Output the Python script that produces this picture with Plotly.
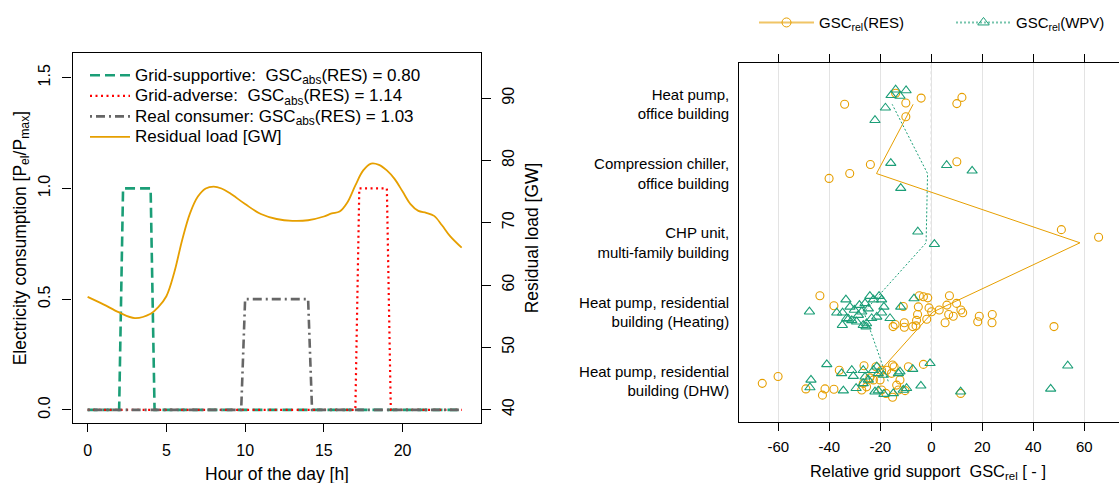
import plotly.graph_objects as go

# ---------------- Left panel data ----------------
hours_res = [0, 1, 2, 3, 4, 4.5, 5, 5.5, 6, 6.5, 7, 7.5, 8, 8.5, 9, 10, 11, 12, 13, 14, 15, 15.5,
             16, 16.5, 17, 17.5, 18, 18.5, 19, 19.5, 20, 20.5, 21, 21.5, 22, 22.5, 23, 23.75]
residual_load = [58.1, 56.9, 55.6, 54.7, 55.4, 56.5, 58.2, 62.0, 67.2, 71.5, 74.2, 75.5, 75.8, 75.5,
                 74.8, 73.0, 71.4, 70.6, 70.3, 70.4, 71.0, 71.5, 71.8, 73.3, 76.0, 78.4, 79.5, 79.3,
                 78.4, 77.0, 75.0, 73.0, 71.9, 71.6, 71.1, 69.6, 67.9, 66.0]

sup_hours = [0, 2.0, 2.25, 4.0, 4.25, 23.75]
sup_vals = [0, 0, 1, 1, 0, 0]
adv_hours = [0, 17.0, 17.25, 19.0, 19.25, 23.75]
adv_vals = [0, 0, 1, 1, 0, 0]
real_hours = [0, 9.75, 10.0, 14.0, 14.25, 23.75]
real_vals = [0, 0, 0.5, 0.5, 0, 0]

left_x_ticks = [0, 5, 10, 15, 20]
left_y_ticks = [0, 0.5, 1.0, 1.5]
left_y_ticktext = ["0.0", "0.5", "1.0", "1.5"]
right_y_ticks = [40, 50, 60, 70, 80, 90]

# ---------------- Right panel data ----------------
categories = ["Heat pump, residential<br>building (DHW)",
              "Heat pump, residential<br>building (Heating)",
              "CHP unit,<br>multi-family building",
              "Compression chiller,<br>office building",
              "Heat pump,<br>office building"]
cat_index = [1, 2, 3, 4, 5]
gsc_ticks = [-60, -40, -20, 0, 20, 40, 60]

# GSC_rel(RES): value, category, vertical jitter
res_x = [-34.0, -14.0, -10.0, -4.0, 10.0, 12.0, -10.0,
         -23.9, -32.0, -40.1, 10.0,
         51.0, 65.6,
         -43.7, -38.2, -11.0, -4.7, -3.1, -1.4, 7.1, 6.1, 9.9, -0.9, -5.1, 3.1, 0.1, 11.6, 12.3, 6.8,
         8.6, 5.4, -5.4, -5.8, -1.8, 18.8, 18.2, 23.9, 23.8, -10.6, -10.6, -14.2, -15.0, -7.3, -6.0, 48.1,
         -66.3, -60.1, -49.2, -41.7, -42.7, -38.2, -36.1, -26.4, -27.3, -24.1, -25.4, -21.7, -20.1, -19.5,
         -17.5, -15.2, -14.6, -15.6, -13.6, -12.3, -17.8, -15.2, -12.9, -9.0, -10.3, -3.1, 11.5, -22.7,
         -26.7, -19.5]
res_cat = [5] * 7 + [4] * 4 + [3] * 2 + [2] * 32 + [1] * 30
res_jit = [0.00, 0.16, 0.02, 0.09, 0.01, 0.10, -0.18,
           0.13, 0.00, -0.07, 0.17,
           0.19, 0.08,
           0.235, 0.09, 0.08, 0.235, 0.22, 0.205, 0.235, 0.10, 0.125, 0.06, 0.075, 0.03, 0.005, 0.03,
           -0.01, -0.035, -0.06, -0.155, -0.035, -0.12, -0.105, -0.06, -0.14, -0.035, -0.155, -0.155,
           -0.22, -0.18, -0.21, -0.21, -0.20, -0.21,
           -0.03, 0.07, -0.11, -0.11, -0.20, -0.115, 0.16, 0.225, -0.125, 0.05, -0.08, 0.21, 0.02,
           -0.125, 0.16, 0.235, 0.21, 0.115, -0.055, 0.02, -0.175, -0.23, -0.125, 0.21, -0.135, 0.244,
           -0.175, 0.02, -0.03, 0.16]

# GSC_rel(WPV)
wpv_x = [-14.0, -9.9, -15.8, -12.3, -18.0, -22.1,
         -15.9, 6.0, 16.0, -12.0,
         -5.3, 1.2,
         -47.8, -33.5, -37.1, -34.8, -32.5, -34.9, -30.2, -28.2, -27.3, -26.0, -24.1, -22.7, -20.5,
         -19.5, -18.6, -19.5, -21.4, -23.4, -25.4, -26.7, -29.3, -31.2, -33.2, -16.2, -12.0, -6.8,
         -25.6, -28.6, -24.7, -31.9,
         -41.0, -47.2, -47.6, -34.5, -35.2, -31.2, -30.6, -29.5, -26.7, -26.7, -26.0, -22.7, -21.4,
         -20.8, -18.8, -22.1, -20.8, -18.6, -14.9, -12.9, -12.3, -11.0, -9.7, -7.3, -4.1, -0.5, 11.5,
         46.8, 53.5, -24.7]
wpv_cat = [5] * 6 + [4] * 4 + [3] * 2 + [2] * 30 + [1] * 30
wpv_jit = [0.21, 0.20, 0.13, 0.12, -0.05, -0.23,
           0.15, 0.12, 0.04, -0.21,
           0.16, -0.02,
           0.005, 0.18, -0.01, -0.01, -0.10, -0.19, 0.03, 0.10, 0.005, 0.125, 0.23, 0.18, 0.23, 0.18,
           0.075, -0.01, -0.07, -0.09, -0.165, -0.19, -0.14, -0.12, -0.09, -0.09, 0.075, 0.195,
           -0.21, -0.045, 0.05, 0.075,
           0.244, 0.02, -0.09, -0.135, 0.115, 0.16, 0.075, -0.10, 0.16, -0.03, 0.065, 0.16, 0.21,
           0.115, 0.09, -0.15, -0.135, -0.185, -0.175, 0.115, 0.14, -0.125, -0.10, 0.175, -0.065, 0.26,
           -0.15, -0.11, 0.225, 0.02]

ORANGE = "#E69F00"
GREEN = "#1B9E77"
FONT = "Liberation Sans, Arial, Helvetica, sans-serif"

res_pos = [c + j for c, j in zip(res_cat, res_jit)]
wpv_pos = [c + j for c, j in zip(wpv_cat, wpv_jit)]


def cat_means(xs, cats):
    out = []
    for c in cat_index:
        vals = [x for x, k in zip(xs, cats) if k == c]
        out.append(sum(vals) / len(vals))
    return out


res_mean = cat_means(res_x, res_cat)
wpv_mean = cat_means(wpv_x, wpv_cat)


def big(txt):
    return "<span style='font-size:17px'>" + txt + "</span>"


fig = go.Figure()

# ---- left panel traces ----
fig.add_trace(go.Scatter(x=sup_hours, y=sup_vals, mode="lines", xaxis="x", yaxis="y",
                         line=dict(color=GREEN, width=2.6, dash="10px,5px"),
                         name=big("Grid-supportive:  GSC<sub>abs</sub>(RES) = 0.80"), legend="legend"))
fig.add_trace(go.Scatter(x=adv_hours, y=adv_vals, mode="lines", xaxis="x", yaxis="y",
                         line=dict(color="#FF0000", width=2.2, dash="2px,3.5px"),
                         name=big("Grid-adverse:  GSC<sub>abs</sub>(RES) = 1.14"), legend="legend"))
fig.add_trace(go.Scatter(x=real_hours, y=real_vals, mode="lines", xaxis="x", yaxis="y",
                         line=dict(color="#666666", width=2.6, dash="2px,4px,9px,4px"),
                         name=big("Real consumer: GSC<sub>abs</sub>(RES) = 1.03"), legend="legend"))
fig.add_trace(go.Scatter(x=hours_res, y=residual_load, mode="lines", xaxis="x", yaxis="y2",
                         line=dict(color=ORANGE, width=1.8, shape="spline", smoothing=1.0),
                         name=big("Residual load [GW]"), legend="legend"))

# ---- right panel traces ----
fig.add_trace(go.Scatter(x=res_mean, y=cat_index, mode="lines", xaxis="x2", yaxis="y3",
                         line=dict(color=ORANGE, width=1), showlegend=False))
fig.add_trace(go.Scatter(x=wpv_mean, y=cat_index, mode="lines", xaxis="x2", yaxis="y3",
                         line=dict(color=GREEN, width=1, dash="2px,2px"), showlegend=False))
fig.add_trace(go.Scatter(x=res_x, y=res_pos, mode="markers", xaxis="x2", yaxis="y3",
                         marker=dict(symbol="circle-open", size=8, color=ORANGE, line=dict(width=1.1)),
                         showlegend=False))
fig.add_trace(go.Scatter(x=wpv_x, y=wpv_pos, mode="markers", xaxis="x2", yaxis="y3",
                         marker=dict(symbol="triangle-up-open", size=9, color=GREEN, line=dict(width=1.1)),
                         showlegend=False))
# legend-only entries for the right panel
fig.add_trace(go.Scatter(x=[None], y=[None], mode="lines+markers", xaxis="x2", yaxis="y3",
                         line=dict(color="rgba(230,159,0,0.6)", width=2),
                         marker=dict(symbol="circle-open", size=9, color=ORANGE),
                         name="GSC<sub>rel</sub>(RES)", legend="legend2"))
fig.add_trace(go.Scatter(x=[None], y=[None], mode="lines+markers", xaxis="x2", yaxis="y3",
                         line=dict(color="rgba(27,158,119,0.6)", width=2, dash="2px,2px"),
                         marker=dict(symbol="triangle-up-open", size=10, color=GREEN),
                         name="GSC<sub>rel</sub>(WPV)", legend="legend3"))

axis_common = dict(showgrid=False, zeroline=False, linecolor="black", linewidth=1.3,
                   tickcolor="black", tickwidth=1.2, color="black")

top_legend = dict(orientation="h", xanchor="left", yanchor="middle", y=(483 - 22.7) / 483,
                  bgcolor="rgba(0,0,0,0)", font=dict(size=15, family=FONT), itemwidth=55)

fig.update_layout(
    width=1119, height=483,
    margin=dict(l=0, r=0, t=0, b=0),
    paper_bgcolor="white", plot_bgcolor="white",
    font=dict(family=FONT, color="black", size=16),
    xaxis=dict(domain=[0.0648, 0.4296], range=[-0.96, 24.96], tickvals=left_x_ticks,
               ticks="outside", ticklen=8, showline=True, mirror=True, anchor="y",
               tickfont=dict(size=16), ticklabelstandoff=4, **axis_common),
    yaxis=dict(domain=[0.1236, 0.8896], range=[-0.0605, 1.61], tickvals=left_y_ticks,
               ticktext=left_y_ticktext, tickangle=-90, ticks="outside", ticklen=9,
               showline=True, mirror=True, anchor="x", tickfont=dict(size=16),
               ticklabelstandoff=6, **axis_common),
    yaxis2=dict(overlaying="y", side="right", range=[37.8, 97.2], tickvals=right_y_ticks,
                tickangle=-90, ticks="outside", ticklen=9, showline=True, anchor="x",
                tickfont=dict(size=16), ticklabelstandoff=4, **axis_common),
    xaxis2=dict(domain=[0.6607, 1.0], range=[-75.3, 73.6], tickvals=gsc_ticks,
                ticktext=[str(v) for v in gsc_ticks], ticks="outside", ticklen=8,
                showline=True, mirror="ticks", anchor="y3", tickfont=dict(size=15),
                ticklabelstandoff=3,
                linecolor="black", linewidth=1.3, tickcolor="black", tickwidth=1.2,
                showgrid=True, gridcolor="#e3e3e3", gridwidth=1, zeroline=False),
    yaxis3=dict(domain=[0.1257, 0.8689], range=[0.408, 5.592], tickvals=cat_index,
                ticktext=categories, ticks="", showline=True, mirror=False, anchor="x2",
                tickfont=dict(size=15), ticklabelstandoff=6, **axis_common),
    legend=dict(x=85 / 1119, y=(483 - 60) / 483, xanchor="left", yanchor="top",
                bgcolor="rgba(0,0,0,0)", font=dict(size=13.5, family=FONT),
                tracegroupgap=0, itemwidth=40),
    legend2=dict(x=754 / 1119, **top_legend),
    legend3=dict(x=951 / 1119, **top_legend),
    shapes=[dict(type="line", xref="x2", yref="y3 domain", x0=0, x1=0, y0=0, y1=1,
                 line=dict(color="#999999", width=1, dash="dot"), layer="below")],
    annotations=[
        dict(text="Hour of the day [h]", xref="paper", yref="paper", x=276.6 / 1119,
             y=(483 - 474) / 483, showarrow=False, font=dict(size=17.5), xanchor="center",
             yanchor="middle"),
        dict(text="Electricity consumption [P<sub>el</sub>/P<sub>max</sub>]", xref="paper",
             yref="paper", x=21 / 1119, y=(483 - 238.3) / 483, textangle=-90, showarrow=False,
             font=dict(size=17.5), xanchor="center", yanchor="middle"),
        dict(text="Residual load [GW]", xref="paper", yref="paper", x=532 / 1119,
             y=(483 - 238.3) / 483, textangle=-90, showarrow=False, font=dict(size=17.5),
             xanchor="center", yanchor="middle"),
        dict(text="Relative grid support  GSC<sub>rel</sub> [ - ]", xref="paper", yref="paper",
             x=928 / 1119, y=(483 - 471.7) / 483, showarrow=False, font=dict(size=16.4),
             xanchor="center", yanchor="middle"),
    ],
)

fig.write_html("out.html", config={"displayModeBar": False},
               post_script="document.body.style.margin='0';document.body.style.overflow='hidden';")
